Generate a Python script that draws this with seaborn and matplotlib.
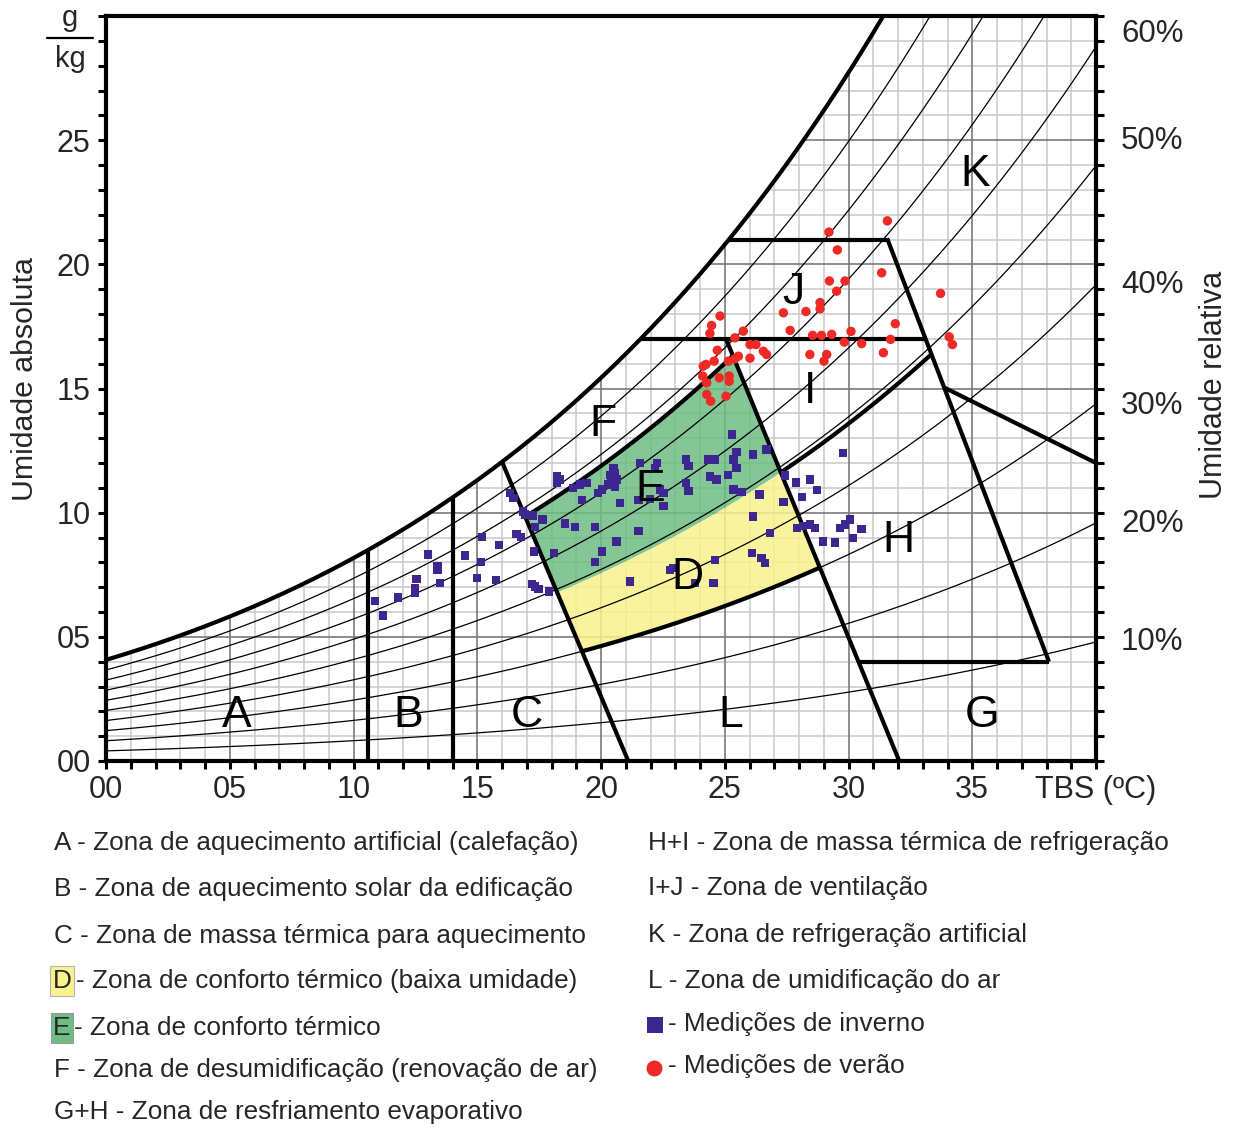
import numpy as np
import pandas as pd
import matplotlib
matplotlib.use("Agg")
import matplotlib.pyplot as plt
from matplotlib.patches import Polygon
from matplotlib.lines import Line2D
import seaborn as sns

sns.set_theme(style="white")
plt.rcParams['font.family'] = ['Liberation Sans', 'DejaVu Sans']

# ---------------------------------------------------------------- data
# Winter measurements: dry-bulb temperature (ºC) and absolute humidity (g/kg)
winter_tbs = [10.87, 11.18, 11.79, 12.48, 12.48, 12.55, 13.02, 13.39, 13.39, 13.49,
              14.51, 14.98, 15.14, 15.18, 15.76, 15.89, 16.32, 16.46, 16.59, 16.76,
              16.86, 16.93, 17.20, 17.33, 17.47, 17.26, 17.33, 17.30, 17.64, 17.90,
              18.10, 18.21, 18.21, 18.55, 18.95, 19.76, 18.88, 19.15, 19.42, 19.89,
              19.22, 19.76, 20.03, 18.34, 20.50, 20.57, 20.36, 20.63, 20.43, 20.30,
              20.57, 20.03, 20.77, 20.63, 21.51, 21.17, 21.58, 21.51, 21.98, 22.25,
              22.18, 22.38, 22.52, 22.52, 23.43, 23.53, 23.43, 23.53, 24.34, 24.61,
              24.40, 24.67, 25.28, 25.48, 25.35, 25.48, 25.14, 26.15, 26.69, 25.35,
              25.68, 26.40, 26.15, 26.83, 26.09, 26.49, 26.63, 24.61, 22.92, 22.79,
              23.80, 24.54, 27.37, 27.43, 27.88, 28.11, 28.44, 28.74, 29.79, 27.91,
              28.17, 28.44, 28.65, 28.98, 29.45, 29.66, 29.86, 30.06, 30.19, 30.53]
winter_ua = [6.45, 5.86, 6.58, 6.96, 6.76, 7.33, 8.31, 7.83, 7.70, 7.17,
             8.27, 7.37, 8.00, 9.02, 7.30, 8.71, 10.79, 10.59, 9.15, 9.02,
             10.05, 9.92, 7.14, 7.03, 6.92, 9.88, 9.42, 8.44, 9.72, 6.83,
             8.37, 11.46, 11.20, 9.56, 9.42, 9.42, 11.00, 11.13, 11.20, 10.79,
             10.52, 8.00, 8.44, 11.33, 11.80, 11.60, 11.53, 11.33, 11.26, 11.13,
             11.06, 10.93, 10.39, 8.84, 9.25, 7.23, 12.00, 10.52, 10.55, 12.00,
             11.80, 10.93, 10.79, 10.28, 12.14, 11.87, 11.20, 10.86, 12.14, 12.14,
             11.46, 11.33, 13.15, 12.43, 12.14, 11.80, 11.53, 12.34, 12.54, 10.93,
             10.82, 10.73, 9.85, 9.18, 8.37, 8.17, 7.97, 8.10, 7.77, 7.70,
             7.17, 7.17, 10.42, 11.49, 11.22, 10.63, 11.33, 10.90, 12.41, 9.38,
             9.45, 9.52, 9.38, 8.84, 8.80, 9.38, 9.52, 9.72, 8.98, 9.34]

# Summer measurements
summer_tbs = [31.57, 29.21, 29.55, 31.34, 29.23, 29.86, 29.52, 33.72, 28.85, 28.85,
              27.37, 28.28, 24.81, 24.47, 24.40, 27.64, 25.75, 25.41, 28.55, 28.91,
              29.32, 30.10, 31.89, 34.07, 34.20, 31.70, 29.83, 30.53, 26.02, 26.26,
              26.56, 26.69, 24.70, 24.57, 24.24, 25.15, 25.41, 25.55, 26.02, 28.44,
              29.12, 29.01, 31.41, 24.11, 24.27, 24.78, 25.18, 25.18, 24.27, 24.43,
              25.05, 24.13]
summer_ua = [21.75, 21.30, 20.58, 19.66, 19.33, 19.33, 18.92, 18.83, 18.46, 18.21,
             18.05, 18.10, 17.92, 17.54, 17.22, 17.34, 17.31, 17.04, 17.14, 17.14,
             17.18, 17.30, 17.61, 17.08, 16.77, 16.98, 16.87, 16.81, 16.77, 16.77,
             16.50, 16.37, 16.54, 16.10, 15.97, 16.10, 16.19, 16.30, 16.22, 16.37,
             16.37, 16.10, 16.44, 15.50, 15.23, 15.43, 15.50, 15.29, 14.76, 14.49,
             14.69, 15.90]

# Relative humidity labels on the right axis and their heights (g/kg)
rh_labels = ["10%", "20%", "30%", "40%", "50%", "60%"]
rh_label_ua = [4.95, 9.68, 14.45, 19.3, 25.1, 29.4]

x_tick_labels = ["00", "05", "10", "15", "20", "25", "30", "35", "TBS (ºC)"]
y_tick_labels = ["00", "05", "10", "15", "20", "25", ""]

legend_left = ["A - Zona de aquecimento artificial (calefação)",
               "B - Zona de aquecimento solar da edificação",
               "C - Zona de massa térmica para aquecimento",
               "D",
               "E",
               "F - Zona de desumidificação (renovação de ar)",
               "G+H - Zona de resfriamento evaporativo"]
legend_d_text = "- Zona de conforto térmico (baixa umidade)"
legend_e_text = "- Zona de conforto térmico"
legend_right = ["H+I - Zona de massa térmica de refrigeração",
                "I+J - Zona de ventilação",
                "K - Zona de refrigeração artificial",
                "L - Zona de umidificação do ar",
                "- Medições de inverno",
                "- Medições de verão"]

# Zone boundary definitions (ºC, g/kg)
T_AB = 10.6                      # A | B
T_BC = 14.0                      # B | C
C_LINE = ((21.1, 0.0), (16.0, 12.05))
L_LINE = ((32.05, 0.0), (25.05, 17.0))
K_LINE = ((38.1, 4.0), (31.56, 21.05))
UA_IJ = 17.0
UA_JK = 21.0
UA_H_BOTTOM = 4.0
GH_END = (40.0, 12.0)
UA_GH_START = 15.04
PHI_TOP, PHI_MID, PHI_BOT = 0.77, 0.49, 0.30
RH_STEPS = [0.1, 0.2, 0.3, 0.4, 0.5, 0.6, 0.7, 0.8, 0.9]

# ---------------------------------------------------------------- psychrometrics
P_ATM = 101.325


def p_ws(t):
    return 0.659 * np.exp(13.7 * t / (188.5 + t))


def w_sat(t):
    p = p_ws(t)
    return 622.0 * p / (P_ATM - p)


def w_rh(t, phi):
    return phi * w_sat(t)


def line_x(seg):
    (x0, y0), (x1, y1) = seg
    return lambda y: x0 + (np.asarray(y) - y0) * (x1 - x0) / (y1 - y0)


T_FINE = np.linspace(0, 40, 40001)


def meet(phi, xf):
    f = T_FINE - xf(w_rh(T_FINE, phi))
    return T_FINE[np.argmax(f > 0)]


def t_at_sat(ua):
    return float(np.interp(ua, w_sat(T_FINE), T_FINE))


c_x, l_x, k_x = line_x(C_LINE), line_x(L_LINE), line_x(K_LINE)

# ---------------------------------------------------------------- figure
W, H = 1239, 1128
fig = plt.figure(figsize=(W / 100, H / 100), dpi=100)
fig.patch.set_facecolor("white")
ax = fig.add_axes([106 / W, 1 - 761 / H, 990 / W, 745 / H])
ax.set_xlim(0, 40)
ax.set_ylim(0, 30)

# region under the saturation curve (grid is only drawn there)
t_top = t_at_sat(30.0)
ts = np.linspace(0, t_top, 400)
under = np.vstack([[[0, 0]], np.column_stack([ts, w_sat(ts)]), [[40, 30], [40, 0]]])
clip = Polygon(under, closed=True, transform=ax.transData, facecolor="none", edgecolor="none")
ax.add_patch(clip)

minor = [v for v in range(1, 40) if v % 5]
major = [v for v in range(5, 40, 5)]
g1 = ax.vlines(minor, 0, 30, colors="#c9c9c9", lw=1.1, zorder=1)
g2 = ax.hlines([v for v in range(1, 30) if v % 5], 0, 40, colors="#c9c9c9", lw=1.1, zorder=1)
g3 = ax.vlines(major, 0, 30, colors="#7a7a7a", lw=1.2, zorder=1.1)
g4 = ax.hlines([5, 10, 15, 20, 25], 0, 40, colors="#7a7a7a", lw=1.2, zorder=1.1)
for g in (g1, g2, g3, g4):
    g.set_clip_path(clip)

# comfort zones
t_mid_c, t_mid_l = meet(PHI_MID, c_x), meet(PHI_MID, l_x)
t_top_c, t_top_l = meet(PHI_TOP, c_x), meet(PHI_TOP, l_x)
t_bot_c, t_bot_l = meet(PHI_BOT, c_x), meet(PHI_BOT, l_x)
tt = np.linspace(t_top_c, t_top_l, 200)
tm = np.linspace(t_mid_c, t_mid_l, 200)
tb = np.linspace(t_bot_c, t_bot_l, 200)
e_poly = np.vstack([np.column_stack([tt, w_rh(tt, PHI_TOP)]),
                    np.column_stack([tm, w_rh(tm, PHI_MID)])[::-1]])
d_poly = np.vstack([np.column_stack([tm, w_rh(tm, PHI_MID)]),
                    np.column_stack([tb, w_rh(tb, PHI_BOT)])[::-1]])
ax.add_patch(Polygon(e_poly, closed=True, facecolor="#6fbc84", edgecolor="none", alpha=0.85, zorder=1.5))
ax.add_patch(Polygon(d_poly, closed=True, facecolor="#faf28c", edgecolor="none", alpha=0.85, zorder=1.5))

# relative humidity curves
tr = np.linspace(0, 40, 400)
for phi in RH_STEPS:
    ax.plot(tr, w_rh(tr, phi), color="black", lw=0.9, zorder=2)

# heavy zone boundaries
heavy = dict(color="black", lw=3.0, zorder=3, solid_capstyle="butt", solid_joinstyle="miter")
ax.plot(ts, w_sat(ts), **heavy)
ax.plot([T_AB, T_AB], [0, w_sat(T_AB)], **heavy)
ax.plot([T_BC, T_BC], [0, w_sat(T_BC)], **heavy)
t_c_sat = meet(1.0, c_x)
ax.plot([C_LINE[0][0], t_c_sat], [0, w_sat(t_c_sat)], **heavy)
ax.plot([L_LINE[0][0], L_LINE[1][0]], [0, L_LINE[1][1]], **heavy)
ax.plot([t_at_sat(UA_IJ), float(k_x(UA_IJ))], [UA_IJ, UA_IJ], **heavy)
ax.plot([t_at_sat(UA_JK), K_LINE[1][0]], [UA_JK, UA_JK], **heavy)
ax.plot([K_LINE[0][0], K_LINE[1][0]], [K_LINE[0][1], K_LINE[1][1]], **heavy)
ax.plot([float(l_x(UA_H_BOTTOM)), K_LINE[0][0]], [UA_H_BOTTOM, UA_H_BOTTOM], **heavy)
ax.plot([float(k_x(UA_GH_START)), GH_END[0]], [UA_GH_START, GH_END[1]], **heavy)
for phi, t0, t1 in [(PHI_TOP, t_top_c, t_top_l), (PHI_BOT, t_bot_c, t_bot_l),
                    (PHI_MID, t_mid_l, meet(PHI_MID, k_x))]:
    tc = np.linspace(t0, t1, 200)
    ax.plot(tc, w_rh(tc, phi), **heavy)

# measurements
win = pd.DataFrame({"TBS": winter_tbs, "UA": winter_ua})
sum_ = pd.DataFrame({"TBS": summer_tbs, "UA": summer_ua})
sns.scatterplot(data=win, x="TBS", y="UA", marker="s", color="#3d2690", s=36,
                edgecolor="none", linewidth=0, ax=ax, zorder=4)
sns.scatterplot(data=sum_, x="TBS", y="UA", marker="o", color="#ee2a27", s=46,
                edgecolor="none", linewidth=0, ax=ax, zorder=4)

# zone letters
for txt, x, y in [("A", 5.29, 1.85), ("B", 12.2, 1.85), ("C", 17.0, 1.85), ("L", 25.25, 1.85),
                  ("G", 35.4, 1.85), ("D", 23.5, 7.38), ("E", 21.98, 10.93), ("F", 20.08, 13.55),
                  ("H", 32.0, 8.87), ("I", 28.44, 14.88), ("J", 27.76, 18.87), ("K", 35.1, 23.63)]:
    ax.text(x, y, txt, fontsize=32, ha="center", va="center", color="black", zorder=5)

# axes styling
ax.set_xlabel("")
ax.set_ylabel("")
for sp in ax.spines.values():
    sp.set_visible(True)
    sp.set_color("black")
    sp.set_linewidth(3.0)
ax.set_xticks(range(0, 41, 5))
ax.set_xticklabels(x_tick_labels)
ax.set_xticks(range(0, 41), minor=True)
ax.set_yticks(range(0, 31, 5))
ax.set_yticklabels(y_tick_labels)
ax.set_yticks(range(0, 31), minor=True)
ax.tick_params(axis="both", which="both", direction="out", length=6, width=2.2, color="black",
               bottom=True, left=True, top=False, right=False)
ax.tick_params(axis="x", which="major", labelsize=22, pad=4)
ax.tick_params(axis="y", which="major", labelsize=22, pad=5)
ax.grid(False)

ax2 = ax.twinx()
ax2.set_ylim(0, 30)
ax2.set_yticks(rh_label_ua)
ax2.set_yticklabels(rh_labels)
ax2.set_yticks(range(0, 31), minor=True)
ax2.tick_params(axis="y", which="minor", direction="out", length=6, width=2.2, color="black")
ax2.tick_params(axis="y", which="major", length=0, labelsize=22.5, pad=18)
for sp in ax2.spines.values():
    sp.set_visible(False)
ax2.grid(False)

# axis titles
fig.text(25 / W, 1 - 379 / H, "Umidade absoluta", rotation=90, fontsize=21.8, ha="center", va="center")
fig.text(1214 / W, 1 - 385 / H, "Umidade relativa", rotation=90, fontsize=22, ha="center", va="center")
fig.text(70 / W, 1 - 18 / H, "g", fontsize=21, ha="center", va="center")
fig.add_artist(Line2D([47 / W, 93 / W], [1 - 38 / H, 1 - 38 / H], color="black", lw=1.6))
fig.text(70 / W, 1 - 59 / H, "kg", fontsize=21, ha="center", va="center")

# key
rows_l = [843, 889, 936, 981, 1028, 1070, 1112]
fs = 18.8
for txt, yy in zip(legend_left, rows_l):
    if txt == "D":
        fig.text(62 / W, 1 - yy / H, "D", fontsize=fs, ha="center", va="center",
                 bbox=dict(boxstyle="square,pad=0.1", facecolor="#faf28c", edgecolor="#b5b5b5", lw=0.8))
        fig.text(76 / W, 1 - yy / H, legend_d_text, fontsize=fs, ha="left", va="center")
    elif txt == "E":
        fig.text(62 / W, 1 - yy / H, "E", fontsize=fs, ha="center", va="center",
                 bbox=dict(boxstyle="square,pad=0.1", facecolor="#6fbc84", edgecolor="#9a9a9a", lw=0.8))
        fig.text(74 / W, 1 - yy / H, legend_e_text, fontsize=fs, ha="left", va="center")
    else:
        fig.text(54 / W, 1 - yy / H, txt, fontsize=fs, ha="left", va="center")

rows_r = [843, 888, 935, 981, 1024, 1066]
for txt, yy in zip(legend_right, rows_r):
    xx = 648 if not txt.startswith("-") else 668
    fig.text(xx / W, 1 - yy / H, txt, fontsize=fs, ha="left", va="center")
fig.add_artist(Line2D([655 / W], [1 - 1025 / H], marker="s", markersize=11, color="#3d2690",
                      markeredgewidth=0, linestyle="none"))
fig.add_artist(Line2D([654 / W], [1 - 1068 / H], marker="o", markersize=11.5, color="#ee2a27",
                      markeredgewidth=0, linestyle="none"))

fig.savefig("out.png", dpi=100, facecolor="white")
